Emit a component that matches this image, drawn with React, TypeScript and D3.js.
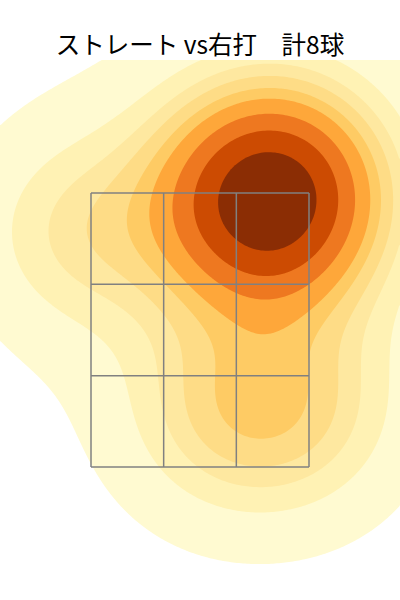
import React, { useMemo } from "react";
import * as d3 from "d3";

const TITLE = "ストレート vs右打　計8球";
// pitch locations in strike-zone units (zone spans -1..1 both ways, y up)
const pitchX = [0.486, 0.807, 0.651, 0.716, 0.541, -1.101, 0.202, 0.936];
const pitchY = [0.985, 1.0, 0.839, 1.088, 0.891, 0.715, -0.613, -0.591];
const zoneCols = [-1, -1 / 3, 1 / 3, 1];
const zoneRows = [-1, -1 / 3, 1 / 3, 1];
// contour levels as a fraction of the peak density
const levelFractions = [0.055, 0.15, 0.22, 0.28, 0.35, 0.42, 0.53, 0.66, 0.82];
const palette = ["#fffad1", "#fff2b4", "#fee8a0", "#fedc86", "#fecb64", "#fea73a", "#ee7820", "#cc4b02", "#8b2d04"];

const W = 400, H = 600;
const PLOT_TOP = 60;
const S1 = 70, S2 = 120, A = 0.85;

export default function App() {
  const x = d3.scaleLinear().domain([-1, 1]).range([91, 309]);
  const y = d3.scaleLinear().domain([1, -1]).range([193, 467]);

  const contours = useMemo(() => {
    const px = pitchX.map(v => x(v));
    const py = pitchY.map(v => y(v));
    const dens = (a: number, b: number) => {
      let s = 0;
      for (let i = 0; i < px.length; i++) {
        const r2 = (a - px[i]) ** 2 + (b - py[i]) ** 2;
        s += A * Math.exp(-r2 / (2 * S1 * S1)) + (1 - A) * Math.exp(-r2 / (2 * S2 * S2));
      }
      return s;
    };
    const cs = 2, nx = W / cs, ny = H / cs;
    const vals: number[] = new Array(nx * ny);
    let m = 0;
    for (let j = 0; j < ny; j++) for (let i = 0; i < nx; i++) {
      const v = dens((i + 0.5) * cs, (j + 0.5) * cs);
      vals[j * nx + i] = v; if (v > m) m = v;
    }
    const th = levelFractions.map(f => f * m);
    return d3.contours().size([nx, ny]).thresholds(th)(vals);
  }, []);
  const path = d3.geoPath(d3.geoTransform({ point(a, b) { this.stream.point(a * 2, b * 2); } }));

  return (
    <svg width={W} height={H} style={{ position: "absolute", left: 0, top: 0 }}>
      <rect width={W} height={H} fill="#fff" />
      <defs>
        <clipPath id="plot"><rect x={0} y={PLOT_TOP} width={W} height={H - PLOT_TOP} /></clipPath>
      </defs>
      <g clipPath="url(#plot)">
        {contours.map((c, i) => (
          <path key={i} d={path(c as any) || ""} fill={palette[i]} stroke="none" />
        ))}
      </g>
      <g stroke="#808080" strokeWidth={1.5} fill="none">
        {zoneCols.map((c, i) => (
          <line key={"c" + i} x1={x(c)} x2={x(c)} y1={y(1)} y2={y(-1)} />
        ))}
        {zoneRows.map((r, i) => (
          <line key={"r" + i} x1={x(-1)} x2={x(1)} y1={y(r)} y2={y(r)} />
        ))}
      </g>
      <text x={W / 2} y={54} textAnchor="middle" fontFamily="'Noto Sans CJK JP', 'Noto Sans', sans-serif" fontSize={24.5} fill="#000">{TITLE}</text>
    </svg>
  );
}
